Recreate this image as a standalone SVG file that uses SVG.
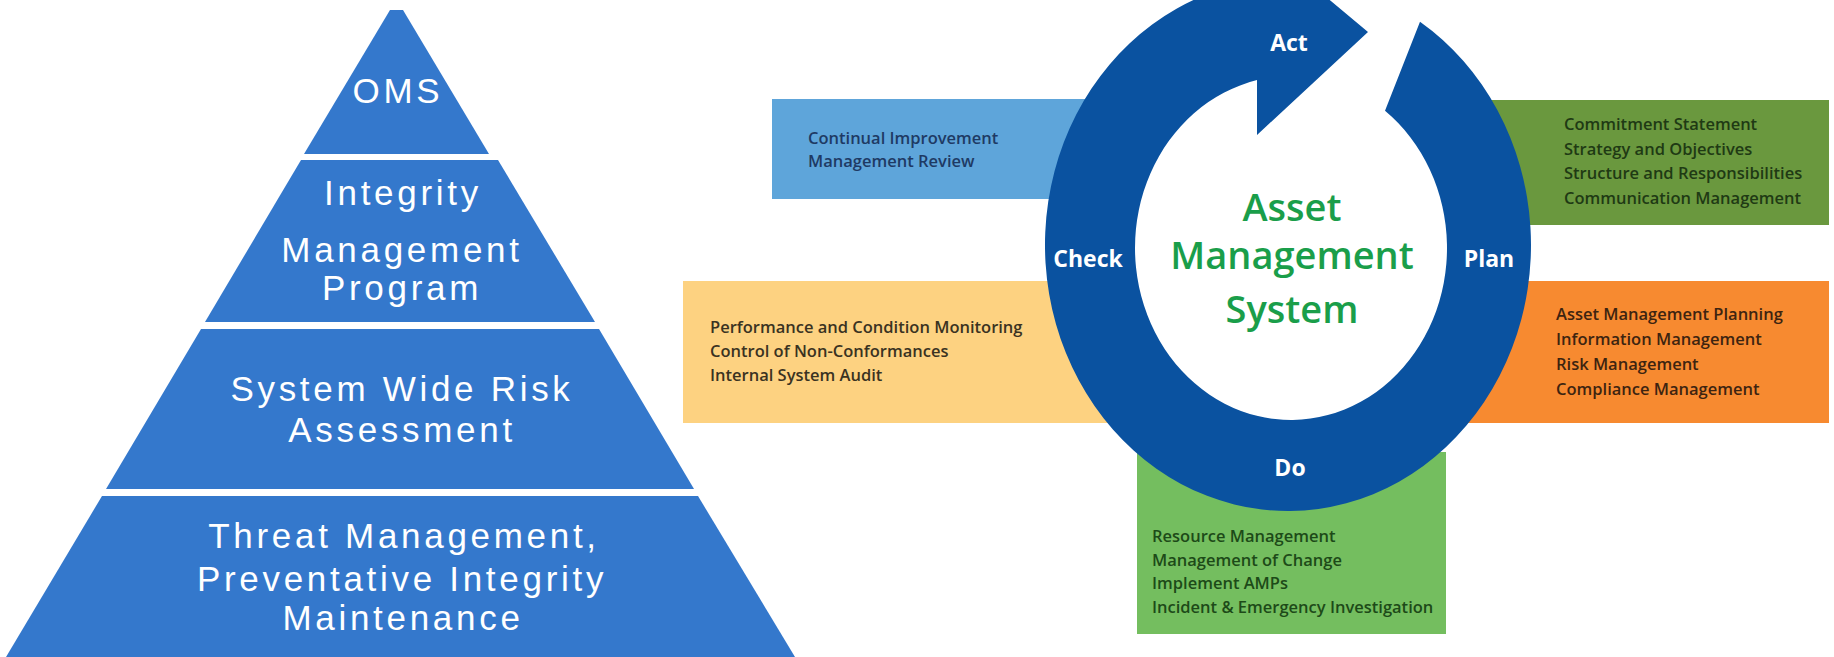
<svg xmlns="http://www.w3.org/2000/svg" width="1834" height="657" viewBox="0 0 1834 657">
<style>
.tier{fill:#3478CC}
.pt{font-family:"Liberation Sans",Arial,sans-serif;font-size:35px;fill:#ffffff;text-anchor:middle;letter-spacing:3.7px}
.lbl{font-family:"Open Sans","Liberation Sans",sans-serif;font-weight:700;font-size:23px;fill:#ffffff;text-anchor:middle}
.ctr{font-family:"Open Sans","Liberation Sans",sans-serif;font-weight:600;font-size:38px;fill:#1a9e4a;text-anchor:middle}
.bt{font-family:"Open Sans","Liberation Sans",sans-serif;font-weight:600;font-size:16.5px}
</style>
<rect width="1834" height="657" fill="#ffffff"/>
<g id="tier-oms">
<polygon class="tier" points="390,10 403,10 489,154 304,154"/>
<text class="pt" x="398" y="103">OMS</text>
</g>
<g id="tier-imp">
<polygon class="tier" points="301,160 498,160 595,322 205,322"/>
<text class="pt" x="403" y="205">Integrity</text>
<text class="pt" x="402" y="262">Management</text>
<text class="pt" x="402" y="300">Program</text>
</g>
<g id="tier-risk">
<polygon class="tier" points="201,329 599,329 694,489 106,489"/>
<text class="pt" x="402" y="401">System Wide Risk</text>
<text class="pt" x="402" y="442">Assessment</text>
</g>
<g id="tier-threat">
<polygon class="tier" points="102,496 698,496 795,657 6,657"/>
<text class="pt" x="404" y="548">Threat Management,</text>
<text class="pt" x="402" y="591">Preventative Integrity</text>
<text class="pt" x="403" y="630">Maintenance</text>
</g>
<g id="box-act">
<rect x="772" y="99" width="330" height="100" fill="#5EA5DA"/>
<text class="bt" fill="#1E3A64"><tspan x="808" y="144">Continual Improvement</tspan><tspan x="808" y="167">Management Review</tspan></text>
</g>
<g id="box-check">
<rect x="683" y="281" width="432" height="142" fill="#FDD281"/>
<text class="bt" fill="#3A3222"><tspan x="710" y="333">Performance and Condition Monitoring</tspan><tspan x="710" y="357">Control of Non-Conformances</tspan><tspan x="710" y="381">Internal System Audit</tspan></text>
</g>
<g id="box-plan1">
<rect x="1470" y="100" width="359" height="125" fill="#6A983E"/>
<text class="bt" fill="#1F3A14"><tspan x="1564" y="130">Commitment Statement</tspan><tspan x="1564" y="155">Strategy and Objectives</tspan><tspan x="1564" y="179">Structure and Responsibilities</tspan><tspan x="1564" y="204">Communication Management</tspan></text>
</g>
<g id="box-plan2">
<rect x="1455" y="281" width="374" height="142" fill="#F78A30"/>
<text class="bt" fill="#3D2410"><tspan x="1556" y="320">Asset Management Planning</tspan><tspan x="1556" y="345">Information Management</tspan><tspan x="1556" y="370">Risk Management</tspan><tspan x="1556" y="395">Compliance Management</tspan></text>
</g>
<g id="box-do">
<rect x="1137" y="452" width="309" height="182" fill="#74BE5F"/>
<text class="bt" fill="#1D4A18"><tspan x="1152" y="542">Resource Management</tspan><tspan x="1152" y="566">Management of Change</tspan><tspan x="1152" y="589">Implement AMPs</tspan><tspan x="1152" y="613">Incident &amp; Emergency Investigation</tspan></text>
</g>
<g id="cycle-arrow">
<path d="M1420 21.7 A243 266 0 1 1 1257 -18.8 L1252 -65 L1368 32 L1257 135 L1257 80.1 A156 172 0 1 0 1385 110.7 Z" fill="#0A52A0"/>
<text class="lbl" x="1289" y="51">Act</text>
<text class="lbl" x="1489" y="267">Plan</text>
<text class="lbl" x="1290" y="476">Do</text>
<text class="lbl" x="1088" y="267">Check</text>
</g>
<g id="center">
<text class="ctr" x="1292" y="221">Asset</text>
<text class="ctr" x="1292" y="269">Management</text>
<text class="ctr" x="1292" y="323">System</text>
</g>
</svg>
